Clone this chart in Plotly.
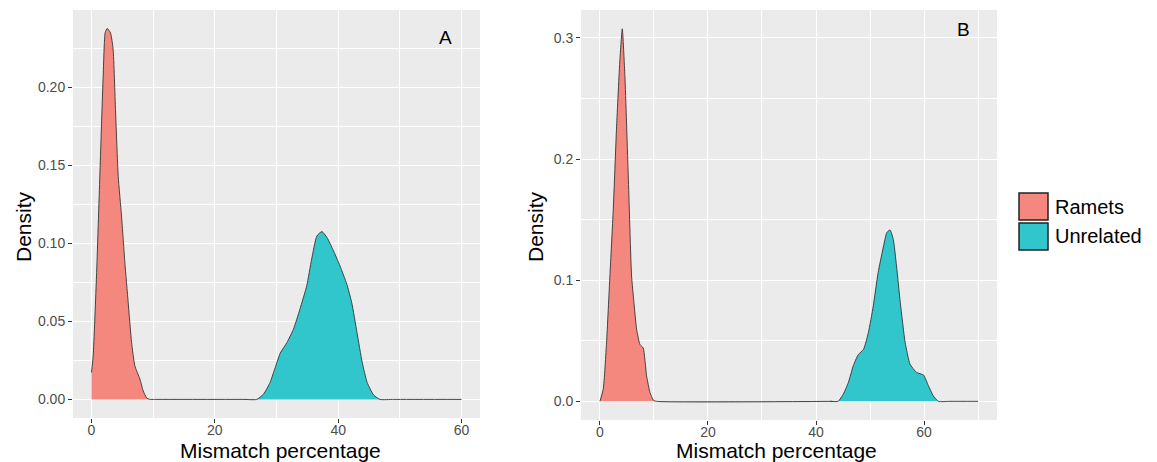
import plotly.graph_objects as go

# ---------------- data ----------------
# Panel A
a_ramets_x = [0, 0.27, 0.81, 1.35, 1.89, 2.21, 2.54, 3.08, 3.51, 3.89, 4.33, 4.87, 5.41, 5.95,
              6.50, 7.03, 7.85, 8.38, 8.93, 9.47, 10.2, 25.0]
a_ramets_y = [0.0173, 0.0279, 0.079, 0.143, 0.207, 0.2348, 0.2376, 0.2348, 0.2241, 0.1857, 0.143,
              0.1175, 0.0877, 0.062, 0.0365, 0.0215, 0.013, 0.0055, 0.001, 0.0, 0.0, 0.0]
a_unrel_x = [24.9, 26.8, 27.9, 28.96, 29.8, 30.6, 31.7, 32.75, 33.8, 34.9, 35.7, 36.55, 37.36,
             38.2, 39.25, 40.3, 41.4, 42.2, 43.05, 43.9, 44.7, 45.75, 46.8, 49.0, 60.0]
a_unrel_y = [0.0, 0.0, 0.0034, 0.0109, 0.0205, 0.0296, 0.0365, 0.045, 0.0578, 0.0727, 0.0898,
             0.1047, 0.1075, 0.1036, 0.0951, 0.0855, 0.0738, 0.062, 0.0429, 0.0237, 0.0109,
             0.0028, 0.0, 0.0, 0.0]

# Panel B
b_ramets_x = [0, 0.62, 1.23, 1.85, 2.47, 3.09, 3.70, 4.14, 4.63, 5.25, 5.86, 6.30, 6.79, 7.41,
              8.02, 8.64, 9.26, 9.88, 10.5, 43.0]
b_ramets_y = [0.0, 0.0101, 0.0486, 0.1035, 0.158, 0.227, 0.282, 0.3075, 0.268, 0.186, 0.1035,
              0.0815, 0.0596, 0.047, 0.044, 0.0211, 0.0074, 0.001, 0.0, 0.0]
b_unrel_x = [42.6, 44.1, 45.06, 46.0, 46.9, 47.8, 48.8, 49.7, 50.6, 51.5, 52.5, 53.1, 53.7,
             54.3, 54.9, 55.6, 56.5, 57.4, 58.6, 59.9, 60.8, 61.7, 62.65, 64.8, 70.0]
b_unrel_y = [0.0, 0.0, 0.006, 0.0157, 0.0294, 0.0384, 0.043, 0.0569, 0.0788, 0.1063, 0.1282,
             0.1393, 0.1414, 0.1338, 0.1118, 0.0816, 0.0486, 0.0307, 0.0239, 0.0217, 0.0129,
             0.0046, 0.0, 0.0, 0.0]

groups = ["Ramets", "Unrelated"]
fill_colors = ["#F4887F", "#31C6CB"]
a_xticks = [0, 20, 40, 60]
a_yticks = [0.00, 0.05, 0.10, 0.15, 0.20]
a_yticklabels = ["0.00", "0.05", "0.10", "0.15", "0.20"]
b_xticks = [0, 20, 40, 60]
b_yticks = [0.0, 0.1, 0.2, 0.3]
b_yticklabels = ["0.0", "0.1", "0.2", "0.3"]
panel_labels = ["A", "B"]
x_title = "Mismatch percentage"
y_title = "Density"

# ---------------- figure ----------------
W, H = 1157, 462
FONT = "Liberation Sans, Arial, sans-serif"
fig = go.Figure()

def add_density(x, y, color, name, xa, ya):
    fig.add_trace(go.Scatter(
        x=x, y=y, mode="lines", name=name, fill="tozeroy", fillcolor=color,
        line=dict(color="#333333", width=0.9, shape="spline", smoothing=0.5),
        xaxis=xa, yaxis=ya, showlegend=False, hoverinfo="x+y"))

add_density(a_ramets_x, a_ramets_y, fill_colors[0], groups[0], "x", "y")
add_density(a_unrel_x, a_unrel_y, fill_colors[1], groups[1], "x", "y")
add_density(b_ramets_x, b_ramets_y, fill_colors[0], groups[0], "x2", "y2")
add_density(b_unrel_x, b_unrel_y, fill_colors[1], groups[1], "x2", "y2")

def px_x(p):
    return p / W

def px_y(p):
    return 1 - p / H

tickfont = dict(family=FONT, size=14, color="#4D4D4D")
common = dict(showgrid=True, gridcolor="white", gridwidth=1.2, zeroline=False,
              showline=False, ticks="outside", ticklen=4, tickwidth=1, tickcolor="#333333",
              tickfont=tickfont, automargin=False, fixedrange=True)

fig.update_layout(
    width=W, height=H,
    margin=dict(l=0, r=0, t=0, b=0),
    paper_bgcolor="white", plot_bgcolor="#EBEBEB",
    font=dict(family=FONT),
    showlegend=False,
    xaxis=dict(domain=[px_x(73), px_x(480)], range=[-3, 63], tickvals=a_xticks,
               ticklabelstandoff=-5,
               minor=dict(dtick=10, tick0=0, showgrid=True, gridcolor="white", gridwidth=0.5, ticks=""),
               anchor="y", **common),
    yaxis=dict(domain=[px_y(418), px_y(10)], range=[-0.0119, 0.2494], tickvals=a_yticks,
               ticktext=a_yticklabels,
               minor=dict(dtick=0.025, tick0=0, showgrid=True, gridcolor="white", gridwidth=0.5, ticks=""),
               anchor="x", **common),
    xaxis2=dict(domain=[px_x(581), px_x(997)], range=[-3.5, 73.5], tickvals=b_xticks,
                ticklabelstandoff=-5,
                minor=dict(dtick=10, tick0=0, showgrid=True, gridcolor="white", gridwidth=0.5, ticks=""),
                anchor="y2", **common),
    yaxis2=dict(domain=[px_y(420), px_y(10)], range=[-0.0154, 0.323], tickvals=b_yticks,
                ticktext=b_yticklabels,
                minor=dict(dtick=0.05, tick0=0, showgrid=True, gridcolor="white", gridwidth=0.5, ticks=""),
                anchor="x2", **common),
)

ann = []
title_font = dict(family=FONT, size=21, color="black")
# axis titles
for cx in (280, 777):
    ann.append(dict(text=x_title, x=px_x(cx), y=px_y(450), xref="paper", yref="paper",
                    xanchor="center", yanchor="middle", showarrow=False, font=title_font))
for cx in (23, 535):
    ann.append(dict(text=y_title, x=px_x(cx), y=px_y(227), xref="paper", yref="paper",
                    xanchor="center", yanchor="middle", showarrow=False, textangle=-90,
                    font=title_font))
# panel labels
ann.append(dict(text=panel_labels[0], x=px_x(445), y=px_y(37), xref="paper", yref="paper",
                xanchor="center", yanchor="middle", showarrow=False,
                font=dict(family=FONT, size=19, color="black")))
ann.append(dict(text=panel_labels[1], x=px_x(963), y=px_y(29.5), xref="paper", yref="paper",
                xanchor="center", yanchor="middle", showarrow=False,
                font=dict(family=FONT, size=19, color="black")))

# legend (manual, ggplot style)
shapes = []
key_rows = [(193, 220), (223, 250)]
for (t, b), name, col in zip(key_rows, groups, fill_colors):
    shapes.append(dict(type="rect", xref="paper", yref="paper",
                       x0=px_x(1019), x1=px_x(1048), y0=px_y(b), y1=px_y(t),
                       fillcolor=col, line=dict(color="#222222", width=1.5)))
    ann.append(dict(text=name, x=px_x(1053), y=px_y((t + b) / 2), xref="paper", yref="paper",
                    xanchor="left", yanchor="middle", showarrow=False,
                    font=dict(family=FONT, size=20, color="black")))

fig.update_layout(annotations=ann, shapes=shapes)
fig.write_html(
    "out.html",
    config={"displayModeBar": False},
    post_script="document.body.style.margin='0';document.body.style.padding='0';"
                "document.documentElement.style.overflow='hidden';document.body.style.overflow='hidden';",
)
